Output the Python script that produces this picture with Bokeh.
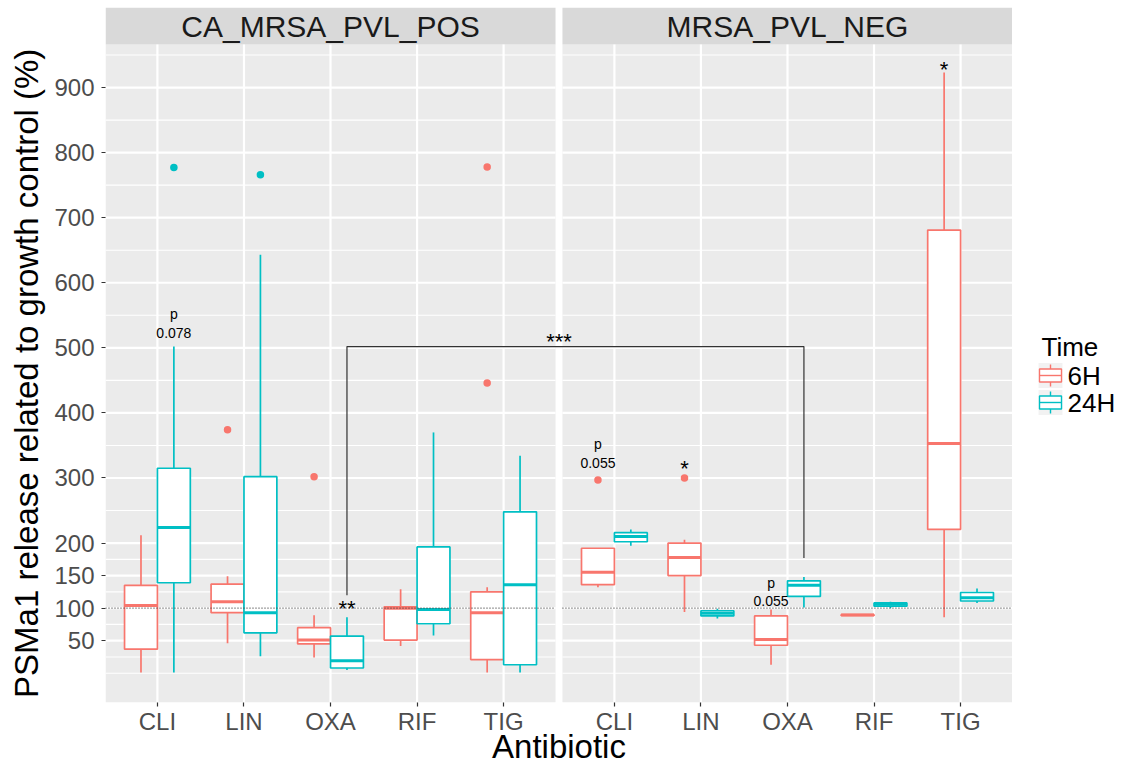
from bokeh.plotting import figure
from bokeh.layouts import row
from bokeh.models import Range1d, FixedTicker, ColumnDataSource
from bokeh.core.properties import value
from bokeh.embed import file_html
from bokeh.resources import INLINE

# ---------------- data ----------------
antibiotics = ["CLI", "LIN", "OXA", "RIF", "TIG"]
panels = ["CA_MRSA_PVL_POS", "MRSA_PVL_NEG"]
times = ["6H", "24H"]
y_ticks = [50, 100, 150, 200, 300, 400, 500, 600, 700, 800, 900]
y_minor = [0, 25, 75, 125, 175, 250, 350, 450, 550, 650, 750, 850, 950]

# box statistics per antibiotic (CLI, LIN, OXA, RIF, TIG)
pos_6h_low = [1, 46, 24, 42, 1]
pos_6h_q1 = [37, 93, 45, 51, 21]
pos_6h_med = [104, 110, 51, 100, 93]
pos_6h_q3 = [135, 137, 70, 102, 125]
pos_6h_high = [212, 149, 89, 129, 132]

pos_24h_low = [1, 26, 5, 58, 1]
pos_24h_q1 = [139, 62, 8, 76, 13]
pos_24h_med = [224, 93, 19, 98, 136]
pos_24h_q3 = [315, 302, 57, 194, 248]
pos_24h_high = [502, 643, 86, 370, 334]

neg_6h_low = [132, 94, 13, 89, 86]
neg_6h_q1 = [136, 150, 43, 89, 221]
neg_6h_med = [155, 178, 52, 89.5, 353]
neg_6h_q3 = [192, 200, 88, 90, 681]
neg_6h_high = [192, 205, 98, 90, 923]

neg_24h_low = [196, 84, 101, 100, 108]
neg_24h_q1 = [202, 88, 118, 103, 111]
neg_24h_med = [210, 92, 135, 106, 116]
neg_24h_q3 = [216, 96, 142, 108, 124]
neg_24h_high = [221, 99, 148, 110, 130]

# outliers
pos_6h_out_ab = ["LIN", "OXA", "TIG", "TIG"]
pos_6h_out_val = [374, 302, 446, 778]
pos_24h_out_ab = ["CLI", "LIN"]
pos_24h_out_val = [777, 766]
neg_6h_out_ab = ["CLI", "LIN"]
neg_6h_out_val = [297, 300]
neg_24h_out_ab = []
neg_24h_out_val = []

# annotations
ann_ab = ["CLI", "CLI", "OXA"]
ann_p_texts = ["p\n0.078", "p\n0.055", "p\n0.055"]
ann_p_panel = [0, 1, 1]
ann_p_time = ["24H", "6H", "6H"]
ann_p_y = [511, 311, 98]

star_texts = ["**", "*", "*"]
star_panel = [0, 1, 1]
star_ab = ["OXA", "LIN", "TIG"]
star_time = ["24H", "6H", "6H"]
star_y = [100, 314, 928]

bracket_y_top = 502
bracket_y_left = 120
bracket_y_right = 177
bracket_label = "***"

# ---------------- geometry ----------------
PANEL_OFF = [0.0, 5.28]
DODGE = {"6H": -0.19, "24H": 0.19}
BOX_W = 0.38
COLORS = {"6H": "#F8766D", "24H": "#00BFC4"}
FONT = "Liberation Sans"
Y_LO, Y_PANEL_TOP, Y_STRIP_TOP = -45, 966, 1023
FIG_H = 768

stats = {
    (0, "6H"): (pos_6h_low, pos_6h_q1, pos_6h_med, pos_6h_q3, pos_6h_high),
    (0, "24H"): (pos_24h_low, pos_24h_q1, pos_24h_med, pos_24h_q3, pos_24h_high),
    (1, "6H"): (neg_6h_low, neg_6h_q1, neg_6h_med, neg_6h_q3, neg_6h_high),
    (1, "24H"): (neg_24h_low, neg_24h_q1, neg_24h_med, neg_24h_q3, neg_24h_high),
}
outliers = {
    (0, "6H"): (pos_6h_out_ab, pos_6h_out_val),
    (0, "24H"): (pos_24h_out_ab, pos_24h_out_val),
    (1, "6H"): (neg_6h_out_ab, neg_6h_out_val),
    (1, "24H"): (neg_24h_out_ab, neg_24h_out_val),
}


def xpos(panel, ab, time=None):
    x = PANEL_OFF[panel] + antibiotics.index(ab) + 1
    if time is not None:
        x += DODGE[time]
    return x


p = figure(width=1012, height=FIG_H,
           x_range=Range1d(0.4, PANEL_OFF[1] + 5.6),
           y_range=Range1d(Y_LO, Y_STRIP_TOP),
           output_backend="svg", toolbar_location=None,
           min_border_left=105, min_border_right=0,
           min_border_top=7, min_border_bottom=66)
p.background_fill_color = "white"
p.border_fill_color = "white"
p.outline_line_color = None
p.xgrid.visible = False
p.ygrid.visible = False

# panel backgrounds and strips
pl = [PANEL_OFF[i] + 0.4 for i in range(2)]
pr = [PANEL_OFF[i] + 5.6 for i in range(2)]
p.quad(left=pl, right=pr, bottom=[Y_LO] * 2, top=[Y_PANEL_TOP] * 2,
       fill_color="#EBEBEB", line_color=None)
p.quad(left=pl, right=pr, bottom=[Y_PANEL_TOP] * 2, top=[Y_STRIP_TOP] * 2,
       fill_color="#D9D9D9", line_color=None)
p.text(x=[PANEL_OFF[i] + 3.0 for i in range(2)],
       y=[(Y_PANEL_TOP + Y_STRIP_TOP) / 2] * 2, text=panels,
       text_align="center", text_baseline="middle",
       text_font=value(FONT), text_font_size="30px", text_color="#1A1A1A")

# grid lines
for i in range(2):
    p.segment(x0=[pl[i]] * len(y_minor), x1=[pr[i]] * len(y_minor),
              y0=y_minor, y1=y_minor, line_color="white", line_width=1.1)
    p.segment(x0=[pl[i]] * len(y_ticks), x1=[pr[i]] * len(y_ticks),
              y0=y_ticks, y1=y_ticks, line_color="white", line_width=2.2)
    xs = [xpos(i, ab) for ab in antibiotics]
    p.segment(x0=xs, x1=xs, y0=[Y_LO] * 5, y1=[Y_PANEL_TOP] * 5,
              line_color="white", line_width=2.2)

# boxplots
for t in times:
    d = dict(x=[], left=[], right=[], low=[], q1=[], med=[], q3=[], high=[])
    for i in range(2):
        lo, q1, med, q3, hi = stats[(i, t)]
        for k, ab in enumerate(antibiotics):
            x = xpos(i, ab, t)
            d["x"].append(x)
            d["left"].append(x - BOX_W / 2)
            d["right"].append(x + BOX_W / 2)
            d["low"].append(lo[k]); d["q1"].append(q1[k]); d["med"].append(med[k])
            d["q3"].append(q3[k]); d["high"].append(hi[k])
    src = ColumnDataSource(d)
    c = COLORS[t]
    p.segment(x0="x", x1="x", y0="q3", y1="high", source=src, line_color=c, line_width=1.7)
    p.segment(x0="x", x1="x", y0="low", y1="q1", source=src, line_color=c, line_width=1.7)
    p.quad(left="left", right="right", bottom="q1", top="q3", source=src,
           fill_color="white", line_color=c, line_width=1.7)
    p.segment(x0="left", x1="right", y0="med", y1="med", source=src,
              line_color=c, line_width=3)
    ox, oy = [], []
    for i in range(2):
        abs_, vals = outliers[(i, t)]
        for ab, v in zip(abs_, vals):
            ox.append(xpos(i, ab, t)); oy.append(v)
    if ox:
        p.scatter(x=ox, y=oy, size=7.5, fill_color=c, line_color=None)

# reference line at 100 %
for i in range(2):
    p.line(x=[pl[i], pr[i]], y=[100, 100], line_color="#444444",
           line_width=1.2, line_dash="1 2")

# significance bracket
bx0 = xpos(0, "OXA", "24H")
bx1 = xpos(1, "OXA", "24H")
p.line(x=[bx0, bx0, bx1, bx1],
       y=[bracket_y_left, bracket_y_top, bracket_y_top, bracket_y_right],
       line_color="#333333", line_width=1.2)
p.text(x=[(pr[0] + pl[1]) / 2], y=[bracket_y_top + 7], text=[bracket_label],
       text_align="center", text_baseline="middle",
       text_font=value(FONT), text_font_size="22px", text_color="black")

# annotations
p.text(x=[xpos(pp, ab, t) for pp, ab, t in zip(ann_p_panel, ann_ab, ann_p_time)],
       y=ann_p_y, text=ann_p_texts, text_align="center", text_baseline="bottom",
       text_font=value(FONT), text_font_size="14px", text_color="black",
       text_line_height=1.15)
p.text(x=[xpos(pp, ab, t) for pp, ab, t in zip(star_panel, star_ab, star_time)],
       y=star_y, text=star_texts, text_align="center", text_baseline="middle",
       text_font=value(FONT), text_font_size="22px", text_color="black")

# axes
p.yaxis.ticker = FixedTicker(ticks=y_ticks)
p.yaxis.axis_label = "PSMa1 release related to growth control (%)\u00a0\u00a0\u00a0\u00a0"
p.xaxis.axis_label = "Antibiotic"
xt = [xpos(i, ab) for i in range(2) for ab in antibiotics]
p.xaxis.ticker = FixedTicker(ticks=xt)
p.xaxis.major_label_overrides = {x: ab for x, ab in zip(xt, antibiotics * 2)}
for ax in (p.xaxis[0], p.yaxis[0]):
    ax.axis_line_color = None
    ax.major_tick_line_color = "#333333"
    ax.major_tick_line_width = 1.2
    ax.major_tick_out = 4
    ax.major_tick_in = 0
    ax.minor_tick_line_color = None
    ax.major_label_text_font = FONT
    ax.major_label_text_font_size = "24px"
    ax.major_label_text_color = "#4D4D4D"
    ax.axis_label_text_font = FONT
    ax.axis_label_text_font_size = "33px"
    ax.axis_label_text_font_style = "normal"
    ax.axis_label_text_color = "black"
p.xaxis.major_label_standoff = 1
p.xaxis.axis_label_standoff = -10
p.yaxis.major_label_standoff = 7
p.yaxis.axis_label_standoff = 6

# ---------------- legend (separate narrow canvas on the right) ----------------
# its frame is aligned with the main frame, so the y range spans the frame rows
lg = figure(width=116, height=FIG_H, x_range=Range1d(0, 116), y_range=Range1d(702, 7),
            output_backend="svg", toolbar_location=None,
            x_axis_location=None, y_axis_location=None,
            min_border_left=0, min_border_right=0, min_border_top=0, min_border_bottom=0)
lg.xgrid.visible = False
lg.ygrid.visible = False
lg.outline_line_color = None
lg.background_fill_color = "white"
lg.border_fill_color = "white"

legend_title = "Time"
key_x0, key_x1 = 27, 49
item_y = [375, 402]
lg.text(x=[29], y=[346], text=[legend_title], text_baseline="middle",
        text_font=value(FONT), text_font_size="26px", text_color="black")
kx = (key_x0 + key_x1) / 2
lg.quad(left=[key_x0 - 1] * 2, right=[key_x1 + 1] * 2,
        top=[y - 12.5 for y in item_y], bottom=[y + 12.5 for y in item_y],
        fill_color="#F2F2F2", line_color=None)
for t, y in zip(times, item_y):
    c = COLORS[t]
    lg.segment(x0=[kx], x1=[kx], y0=[y - 11], y1=[y + 11], line_color=c, line_width=1.4)
    lg.quad(left=[key_x0], right=[key_x1], top=[y - 6.5], bottom=[y + 6.5],
            fill_color="white", line_color=c, line_width=1.4)
    lg.segment(x0=[key_x0], x1=[key_x1], y0=[y], y1=[y], line_color=c, line_width=1.4)
lg.text(x=[55] * 2, y=item_y, text=times, text_baseline="middle",
        text_font=value(FONT), text_font_size="26px", text_color="black")

layout = row(p, lg, spacing=0)
open("out.html", "w").write(file_html(layout, INLINE))
